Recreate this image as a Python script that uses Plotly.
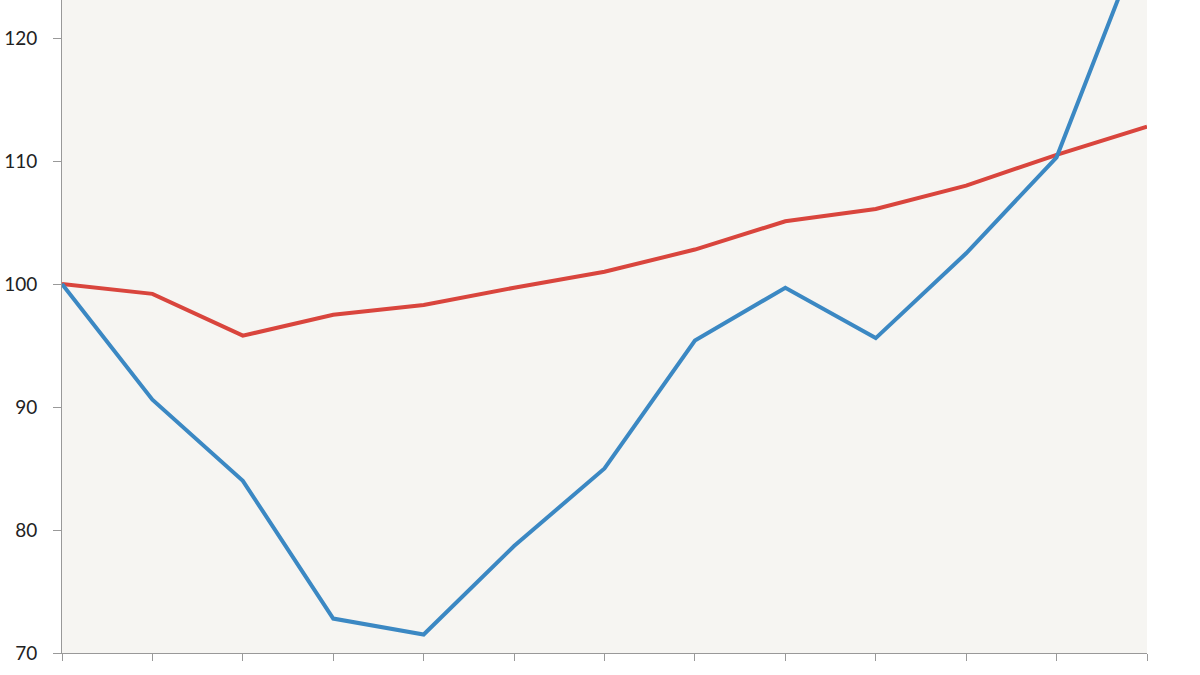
import plotly.graph_objects as go

# index values over 13 periods (both start at 100)
periods = list(range(13))
red_series = [100, 99.2, 95.8, 97.5, 98.3, 99.7, 101.0, 102.8, 105.1, 106.1, 108.0, 110.5, 112.8]
blue_series = [100, 90.6, 84.0, 72.8, 71.5, 78.7, 85.0, 95.4, 99.7, 95.6, 102.5, 110.3, 129.2]
y_ticks = [70, 80, 90, 100, 110, 120]

fig = go.Figure()

fig.add_trace(go.Scatter(x=periods, y=red_series, mode='lines',
                         line=dict(color='#d9453d', width=4)))
fig.add_trace(go.Scatter(x=periods, y=blue_series, mode='lines',
                         line=dict(color='#3b88c3', width=4)))

fig.update_layout(
    width=1200, height=675,
    margin=dict(l=62, r=53, t=0, b=22),
    paper_bgcolor='white',
    plot_bgcolor='#f6f5f2',
    showlegend=False,
    font=dict(family='Lato', size=19, color='#222'),
    xaxis=dict(range=[0, 12], tickvals=periods, showticklabels=False,
               ticks='outside', ticklen=7, tickcolor='#999', tickwidth=1,
               showline=True, linecolor='#999', linewidth=1,
               showgrid=False, zeroline=False, fixedrange=True),
    yaxis=dict(range=[70, 123.09], tickvals=y_ticks,
               ticks='outside', ticklen=8, tickcolor='#999', tickwidth=1,
               ticklabelstandoff=12,
               showline=True, linecolor='#999', linewidth=1,
               showgrid=False, zeroline=False, fixedrange=True),
)

# drop the browser's default body margin so the chart fills the window
fig.write_html("out.html", config={'displayModeBar': False},
               post_script="document.body.style.margin='0';")
